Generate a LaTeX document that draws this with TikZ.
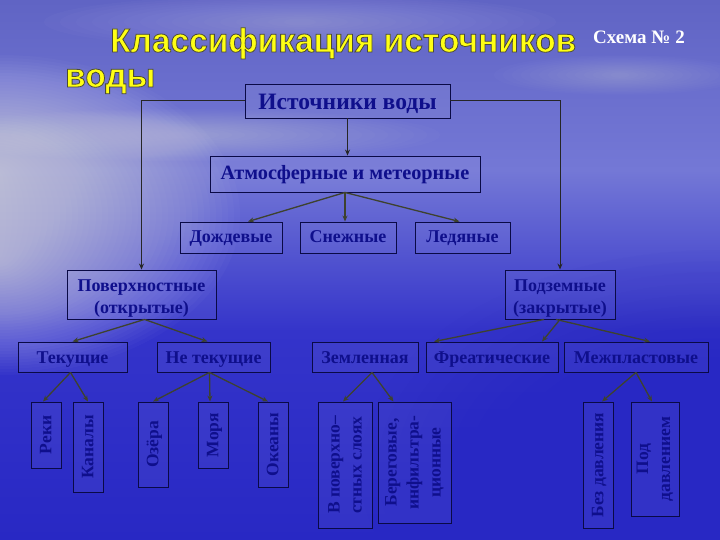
\documentclass[tikz,border=0pt]{standalone}
\usepackage{fontspec}
\setmainfont{Liberation Serif}
\newfontfamily\titlefont{Liberation Sans}
\usetikzlibrary{arrows.meta,calc}
\definecolor{sky}{RGB}{96,100,196}
\definecolor{horizon}{RGB}{116,120,214}
\definecolor{sea}{RGB}{52,52,202}
\definecolor{seadeep}{RGB}{40,40,196}
\definecolor{navy}{RGB}{15,15,140}
\definecolor{frame}{RGB}{10,10,70}
\definecolor{arr}{RGB}{62,66,46}
\definecolor{ttl}{RGB}{255,255,20}
\newcommand{\outlined}[1]{\special{pdf:literal direct 2 Tr 0.8 w 0.3 0.3 0.2 RG}#1\special{pdf:literal direct 0 Tr}}
\begin{document}
\begin{tikzpicture}[x=1pt,y=-1pt,
  box/.style={draw=frame, line width=0.9pt, fill=white, fill opacity=0.05, text opacity=1,
    text=navy, font=\bfseries\fontsize{#1}{22}\selectfont, inner sep=0pt, align=center},
  box/.default=18,
  sl/.style={text height=14pt, text depth=1.5pt},
  ml/.style={text height=39pt, text depth=2pt},
  vbox/.style={box=#1, rotate=90},
  vbox/.default=17.5,
  vsl/.style={text height=12pt, text depth=1.5pt},
  tfont/.style={font=\titlefont\bfseries\fontsize{33.5}{33.5}\selectfont, inner sep=0pt, anchor=base west},
  con/.style={draw=arr, line width=1.3pt, -{Stealth[length=6pt,width=5pt]}},
  lin/.style={draw=black!85, line width=1pt, -{Stealth[length=6pt,width=5pt]}}]
\useasboundingbox (0,0) rectangle (720,540);
% background
\shade[top color=sky, bottom color=horizon] (0,0) rectangle (720,171);
\shade[top color=horizon, bottom color=sea] (0,170) rectangle (720,331);
\shade[top color=sea, bottom color=seadeep] (0,330) rectangle (720,540);
\foreach \i in {1,...,40}
  \fill[white, opacity=0.022] (0,215) ellipse ({6*\i} and {40+3*\i});
\foreach \i in {1,...,20}
  \fill[white, opacity=0.018] (180,135) ellipse ({13*\i} and {2+1.2*\i});
\foreach \i in {1,...,16}
  \fill[white, opacity=0.018] (300,22) ellipse ({16*\i} and {2+1.6*\i});
\foreach \i in {1,...,14}
  \fill[white, opacity=0.018] (620,75) ellipse ({9*\i} and {1.5+1.3*\i});
\foreach \i in {1,...,20}
  \fill[seadeep, opacity=0.03] (720,470) ellipse ({18*\i} and {11*\i});
% title
\node[tfont, text=ttl] (title) at (110,52) {\outlined{Классификация источников}};
\node[tfont, text=ttl] (title2) at (65,87) {\outlined{воды}};
\node[anchor=base west, text=white, font=\bfseries\fontsize{19}{19}\selectfont, inner sep=0pt] (sch) at (593,44) {Схема № 2};
% upper levels
\node[box=23.5, text height=19pt, text depth=1pt, minimum width=205, minimum height=34] (src) at (347.5,101) {Источники воды};
\node[box=20.3, text height=14pt, text depth=2pt, minimum width=270, minimum height=36] (atm) at (345,174) {Атмосферные и метеорные};
\node[box, text height=12.5pt, text depth=1.5pt, minimum width=102, minimum height=31] (rain) at (231,237.5) {Дождевые};
\node[box, text height=12.5pt, text depth=1.5pt, minimum width=96, minimum height=31] (snow) at (348,237.5) {Снежные};
\node[box, text height=12.5pt, text depth=1.5pt, minimum width=95, minimum height=31] (ice) at (462.5,237.5) {Ледяные};
\node[box, ml, minimum width=149, minimum height=49] (surf) at (141.5,294.5) {Поверхностные\\(открытые)};
\node[box, ml, minimum width=110, minimum height=49] (under) at (560,294.5) {Подземные\\(закрытые)};
\node[box, sl, minimum width=109, minimum height=30] (flow) at (72.5,357) {Текущие};
\node[box, sl, minimum width=113, minimum height=30] (still) at (213.5,357) {Не текущие};
\node[box, sl, minimum width=106, minimum height=30] (zeml) at (365,357) {Земленная};
\node[box, sl, minimum width=132, minimum height=30] (freat) at (492,357) {Фреатические};
\node[box, sl, minimum width=144, minimum height=30] (mezh) at (636,357) {Межпластовые};
% vertical boxes
\node[vbox, vsl, minimum width=66, minimum height=30] (reki) at (46,435) {Реки};
\node[vbox, vsl, minimum width=90, minimum height=30] (kanaly) at (88,447) {Каналы};
\node[vbox, vsl, minimum width=85, minimum height=30] (ozera) at (153,444.5) {Озёра};
\node[vbox, vsl, minimum width=66, minimum height=30] (morya) at (213,435) {Моря};
\node[vbox, vsl, minimum width=85, minimum height=30] (okeany) at (273,444.5) {Океаны};
\node[vbox, font=\bfseries\fontsize{17.5}{22}\selectfont, align=left, minimum width=126, minimum height=54] (vpov) at (345,465) {В поверхно–\\стных слоях};
\node[vbox, font=\bfseries\fontsize{17.5}{22}\selectfont, minimum width=121, minimum height=73] (bereg) at (414.5,462.5) {Береговые,\\инфильтра-\\ционные};
\node[vbox, vsl, minimum width=126, minimum height=30] (bezd) at (598,465) {Без давления};
\node[vbox, font=\bfseries\fontsize{17.5}{22}\selectfont, minimum width=114, minimum height=48] (podd) at (655,459) {Под\\давлением};
% connectors
\draw[lin] (src.west) -| (surf.north);
\draw[lin] (src.east) -| (under.north);
\draw[lin] (src.south) -- (src.south |- atm.north);
\draw[con] (atm.south) -- ([xshift=17pt]rain.north);
\draw[con] (atm.south) -- (atm.south |- snow.north);
\draw[con] (atm.south) -- ([xshift=-3pt]ice.north);
\draw[con] ([xshift=3pt]surf.south) -- (flow.north);
\draw[con] ([xshift=3pt]surf.south) -- ([xshift=-6pt]still.north);
\draw[con] ([xshift=-16pt]under.south) -- ([xshift=-58pt]freat.north);
\draw[con] (under.south) -- ([xshift=50pt]freat.north);
\draw[con] ([xshift=-4pt]under.south) -- ([xshift=14pt]mezh.north);
\draw[con] ([xshift=-2pt]flow.south) -- ([xshift=-3pt]reki.east);
\draw[con] ([xshift=-2pt]flow.south) -- (kanaly.east);
\draw[con] ([xshift=-4pt]still.south) -- (ozera.east);
\draw[con] ([xshift=-4pt]still.south) -- ([xshift=-3pt]morya.east);
\draw[con] ([xshift=-4pt]still.south) -- ([xshift=-5pt]okeany.east);
\draw[con] ([xshift=7pt]zeml.south) -- ([xshift=-2pt]vpov.east);
\draw[con] ([xshift=7pt]zeml.south) -- ([xshift=-21pt]bereg.east);
\draw[con] (mezh.south) -- ([xshift=4pt]bezd.east);
\draw[con] (mezh.south) -- ([xshift=-3pt]podd.east);
\end{tikzpicture}
\end{document}
